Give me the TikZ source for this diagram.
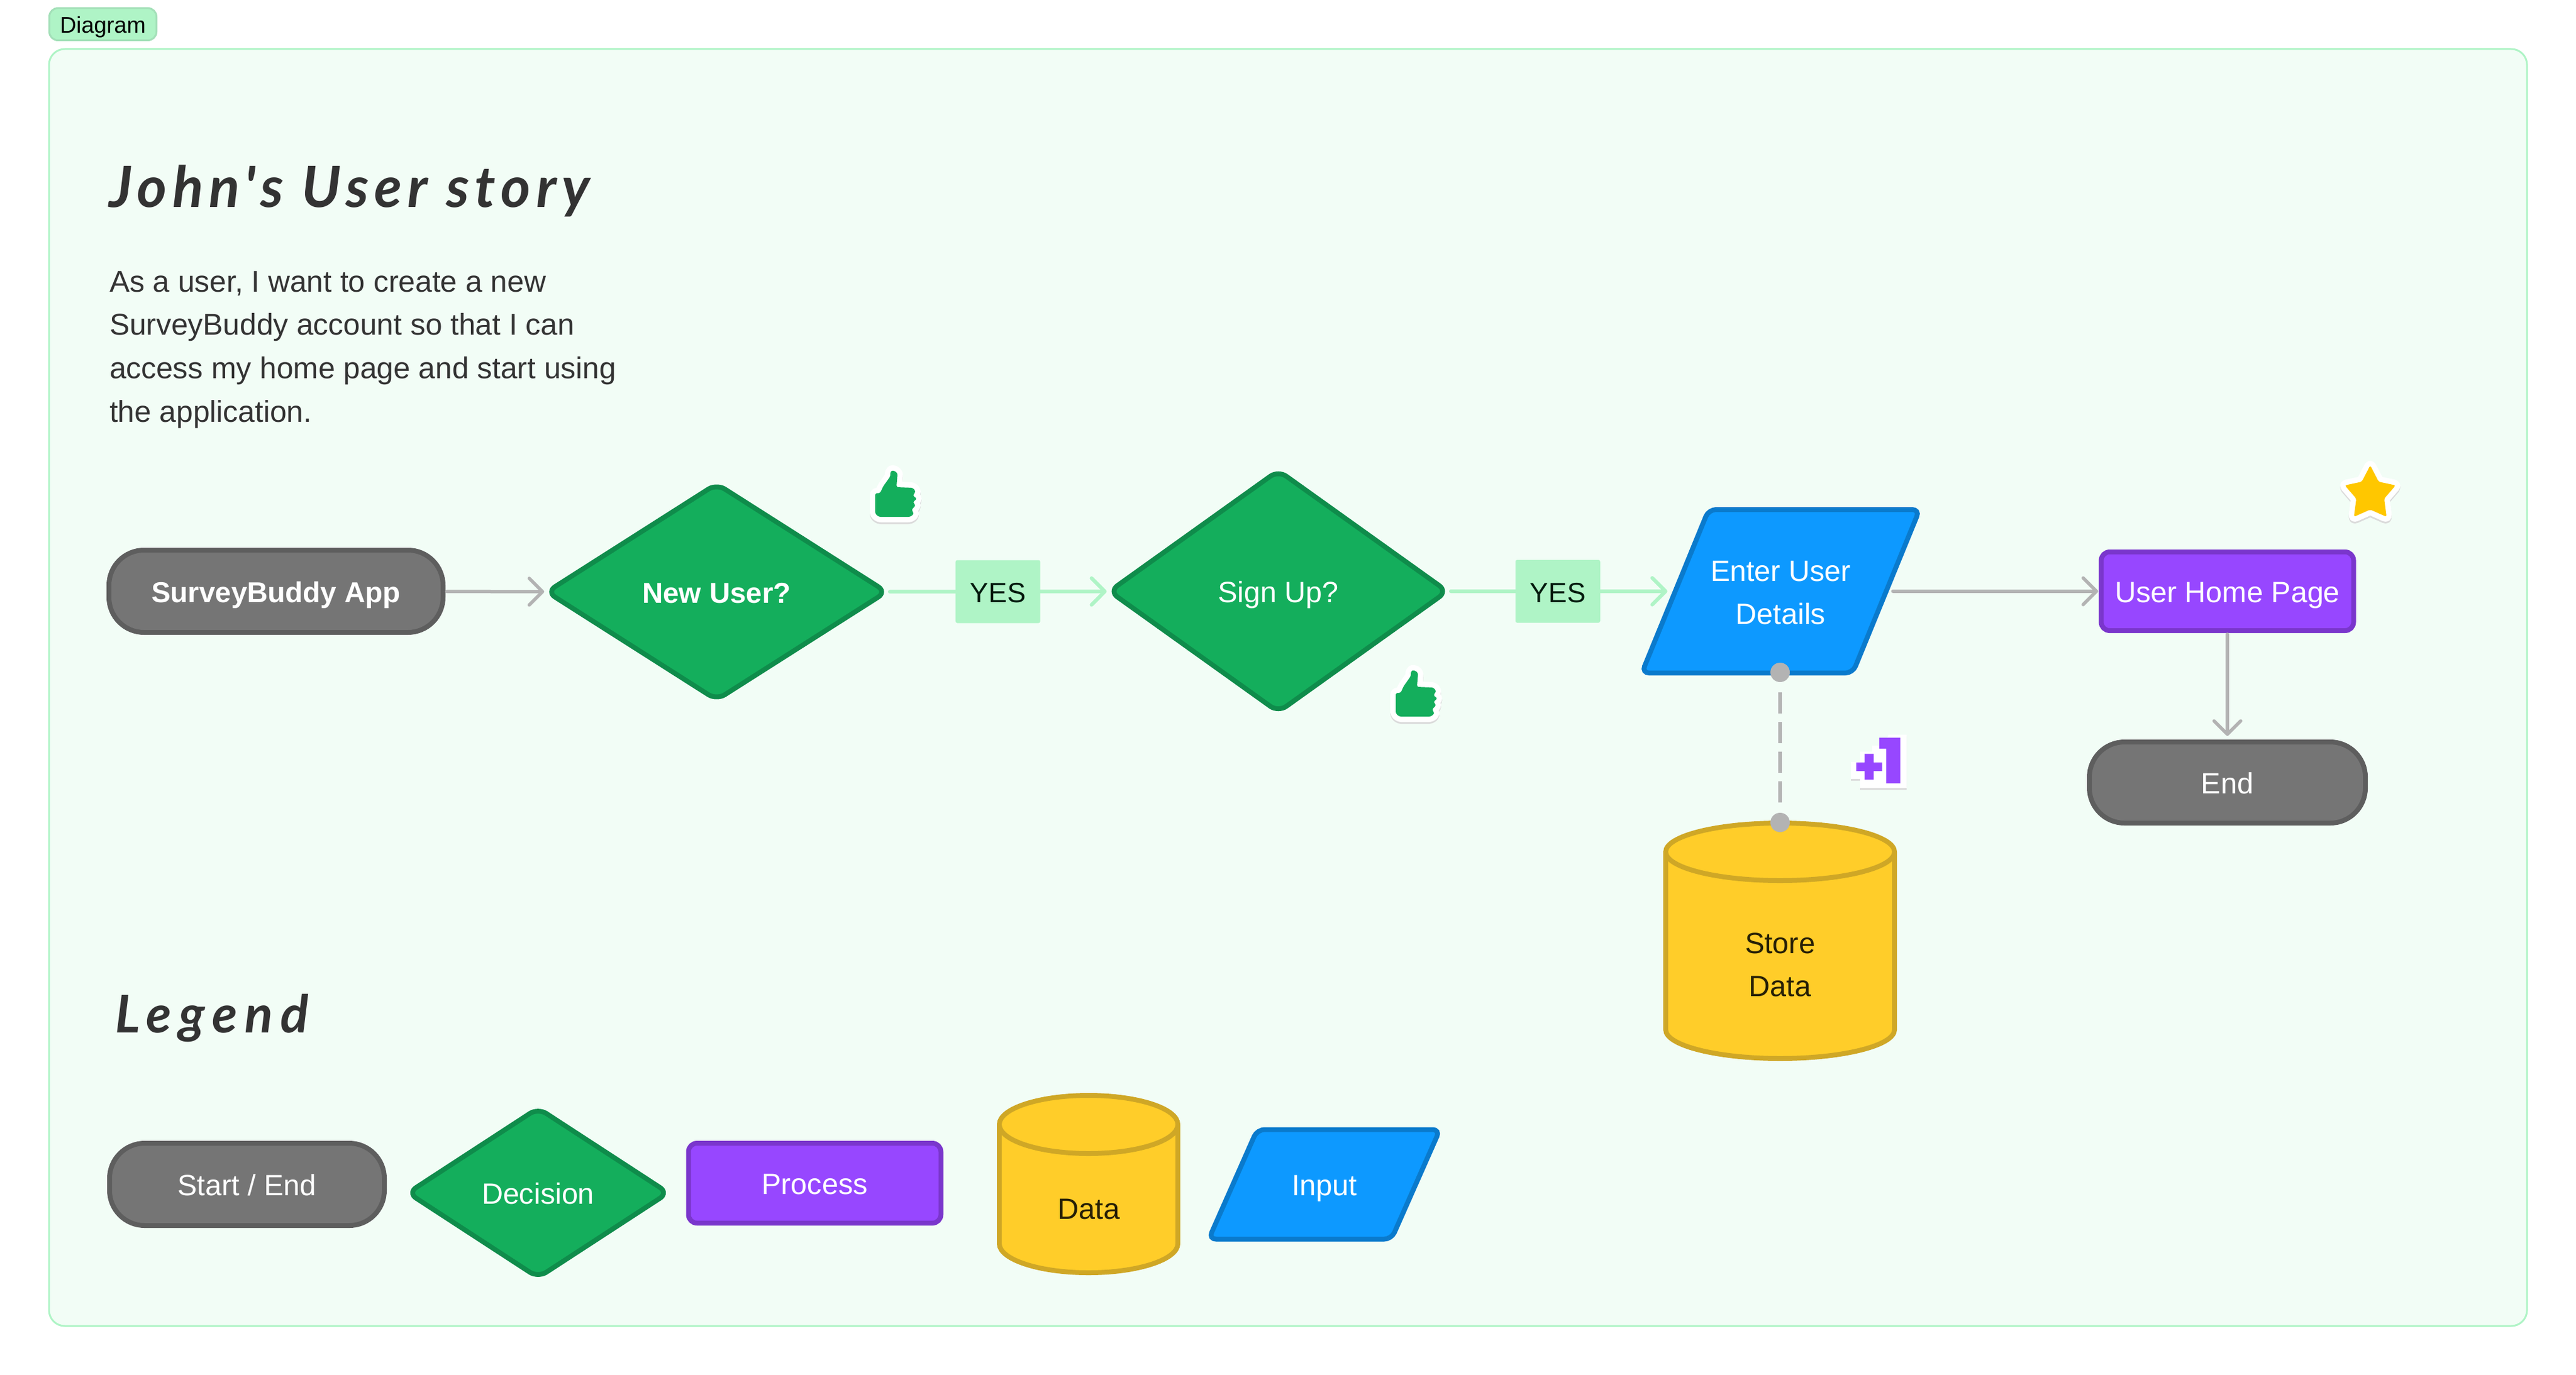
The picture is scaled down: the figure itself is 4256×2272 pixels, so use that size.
\documentclass[tikz,border=0pt]{standalone}
\usepackage{fontspec}
\usepackage{graphicx}
\setmainfont{Liberation Sans}
\newfontfamily\handfont{Lato}
\newfontfamily\stickfont[BoldFeatures={FakeBold=2.5}]{Poppins}
\usetikzlibrary{shapes.geometric,arrows.meta,calc}
\definecolor{framefill}{HTML}{F2FDF6}
\definecolor{mint}{HTML}{AFF4C6}
\definecolor{mintline}{HTML}{A3E0B8}
\definecolor{greyline}{HTML}{B3B3B3}
\definecolor{greyfill}{HTML}{757575}
\definecolor{greydraw}{HTML}{5E5E5E}
\definecolor{greenfill}{HTML}{14AE5C}
\definecolor{greendraw}{HTML}{0F8C4B}
\definecolor{purplefill}{HTML}{9747FF}
\definecolor{purpledraw}{HTML}{7A36CC}
\definecolor{bluefill}{HTML}{0D99FF}
\definecolor{bluedraw}{HTML}{0A7ACC}
\definecolor{yellowfill}{HTML}{FFCD29}
\definecolor{yellowdraw}{HTML}{CFA726}
\definecolor{ink}{HTML}{333333}
\definecolor{stargold}{HTML}{FFC700}
\newcommand{\fs}[1]{\fontsize{#1}{#1}\selectfont}
\newcommand{\cylbody}[5]{%
  \draw[cylstyle] ({#1-#3},#2) -- ({#1-#3},#5)
    .. controls ({#1-#3},{#5+.55*#4}) and ({#1-.55*#3},{#5+#4}) .. ({#1},{#5+#4})
    .. controls ({#1+.55*#3},{#5+#4}) and ({#1+#3},{#5+.55*#4}) .. ({#1+#3},#5)
    -- ({#1+#3},#2);
  \draw[cylstyle] (#1,#2) ellipse ({#3pt} and {#4pt});
}
\newcommand{\thumbpath}{(30,0) -- (37,5) -- (35,28) -- (62,29) -- (67,35) -- (62,42) -- (69,47) -- (62,53) -- (67,58) -- (60,65) -- (64,72) -- (58,77) -- (6,77) -- (0,72) -- (0,38) -- (8,38) -- (13,27) -- (25,10) -- (25,2) -- cycle}
\newcommand{\starpath}{(0,-46) -- (14,-19) -- (42,-13) -- (23,9) -- (27,39) -- (0,27) -- (-27,39) -- (-23,9) -- (-42,-13) -- (-14,-19) -- cycle}
\newcommand{\plusonepath}{(3058,1259) -- (3073,1259) -- (3073,1242) -- (3093,1242) -- (3093,1232) -- (3113,1232) -- (3120,1214) -- (3150,1214) -- (3150,1302) -- (3073,1302) -- (3073,1287) -- (3058,1287) -- cycle}
\tikzset{
  x=1pt,y=-1pt,
  every node/.style={inner sep=0pt,outer sep=0pt},
  oneline/.style={text height=44pt,text depth=8pt},
  body/.style={font=\fs{48.5}},
  startend/.style={rectangle,rounded corners=58pt,draw=greydraw,fill=greyfill,line width=8pt,text=white,body,oneline},
  decision/.style={diamond,rounded corners=16pt,draw=greendraw,fill=greenfill,line width=8pt,text=white,body,oneline},
  procbox/.style={rectangle,rounded corners=14pt,draw=purpledraw,fill=purplefill,line width=8pt,text=white,body,oneline},
  inputbox/.style={trapezium,trapezium stretches body,rounded corners=12pt,draw=bluedraw,fill=bluefill,line width=8pt,text=white,body},
  cylstyle/.style={draw=yellowdraw,fill=yellowfill,line width=8pt,line join=round},
  cyltext/.style={text=black!85!yellowfill,body},
  yeslabel/.style={rectangle,rounded corners=3pt,fill=mint,minimum width=140pt,minimum height=104pt,text=black!85!greenfill,font=\fs{46},oneline},
  greyconn/.style={draw=greyline,line width=5.5pt,line cap=round,-{Straight Barb[length=22pt,width=44pt,round]},shorten <=6pt,shorten >=5pt},
  mintconn/.style={draw=mint,line width=6pt,line cap=round,-{Straight Barb[length=22pt,width=44pt,round]},shorten <=6pt,shorten >=5pt},
  linkdot/.style={circle,fill=greyline,minimum size=32pt},
  linkdash/.style={draw=greyline,line width=5.5pt,line cap=butt,dash pattern=on 35pt off 14pt,shorten <=17pt,shorten >=17pt},
  thumbpic/.pic={
    \draw[black!14,fill=black!14,line width=18pt,line join=round,rounded corners=3pt,shift={(0,3)}] \thumbpath;
    \draw[white,fill=white,line width=18pt,line join=round,rounded corners=3pt] \thumbpath;
    \fill[greenfill,rounded corners=3pt] \thumbpath;
  },
  starpic/.pic={
    \draw[black!14,fill=black!14,line width=18pt,line join=round,rounded corners=3pt,shift={(0,3)}] \starpath;
    \draw[white,fill=white,line width=18pt,line join=round,rounded corners=3pt] \starpath;
    \fill[stargold,rounded corners=3pt] \starpath;
  },
}
\begin{document}
\begin{tikzpicture}
\useasboundingbox (0,0) rectangle (4256,2272);
\fill[white] (0,0) rectangle (4256,2272);

% tag and frame
\draw[draw=mint,fill=framefill,line width=3pt,rounded corners=26pt] (81,81) rectangle (4175,2191);
\node[rectangle,rounded corners=14pt,draw=mintline,fill=mint,line width=3pt,minimum width=177pt,minimum height=53pt,font=\fs{37.5},text=black,text height=32pt,text depth=3pt] (tag) at (170,40) {Diagram};

% headings
\node[anchor=base west,text=ink,font=\handfont\bfseries\itshape\fs{94}\addfontfeature{LetterSpace=10}] (title) at (180,342) {John's User story};
\node[anchor=base west,text=ink,align=left,font=\fontsize{49.7}{71.6}\selectfont] (story) at (181,697) {As a user, I want to create a new\\SurveyBuddy account so that I can\\access my home page and start using\\the application.};
\node[anchor=base west,text=ink,font=\handfont\bfseries\itshape\fs{86}\addfontfeature{LetterSpace=14.5}] (legendtitle) at (190,1706) {Legend};

% flow
\node[startend,minimum width=552pt,minimum height=136pt,font=\bfseries\fs{47.5}] (app) at (456,977) {SurveyBuddy App};
\node[decision,aspect=1.54,minimum width=561pt,minimum height=357pt,font=\bfseries\fs{47.5}] (newuser) at (1184,978) {New User?};
\node[decision,aspect=1.39,minimum width=558pt,minimum height=399pt] (signup) at (2112,977) {Sign Up?};
\node[inputbox,trapezium left angle=45,trapezium right angle=135,minimum width=459pt,minimum height=270pt,align=center,font=\fontsize{48.5}{71}\selectfont] (enter) at (2942,977) {\rule{0pt}{39pt}Enter User\\Details};
\node[procbox,minimum width=417pt,minimum height=130pt] (home) at (3680,977) {User Home Page};
\node[startend,minimum width=456pt,minimum height=134pt] (end) at (3680,1293) {End};

\cylbody{2941}{1407.5}{189}{47.5}{1701.5}
\node[cyltext,align=center,font=\fontsize{48.5}{71}\selectfont,minimum width=378pt] (store) at (2941,1594) {Store\\Data};

\draw[greyconn] (app) -- (newuser);
\draw[mintconn] (newuser) -- node[yeslabel] (yesa) {YES} (signup);
\draw[mintconn,shorten >=13pt] (signup) -- node[yeslabel,pos=.485] (yesb) {YES} (enter);
\draw[greyconn,shorten <=11pt] (enter) -- (home);
\draw[greyconn,shorten >=10pt] (home) -- (end);

\node[linkdot] (dota) at (2941,1111) {};
\node[linkdot] (dotb) at (2941,1359) {};
\draw[linkdash] (dota) -- (dotb);

% stickers
\pic at (1446,777) {thumbpic};
\pic at (2306,1107) {thumbpic};
\pic at (3916,815) {starpic};
\fill[black!14] [shift={(0,3)}] \plusonepath;
\fill[white] \plusonepath;
\node[anchor=base west,text=purplefill,font=\stickfont\bfseries] (plusone) at (3063,1293) {{\fs{80}\raisebox{-2pt}{+}}\kern-10pt{\fs{100}\scalebox{1.15}[1]{1}}};

% legend
\node[startend,minimum width=454pt,minimum height=136pt] (lstart) at (408,1957) {Start / End};
\node[decision,aspect=1.52,minimum width=430pt,minimum height=280pt] (ldecision) at (889,1971) {Decision};
\node[procbox,minimum width=417pt,minimum height=132pt] (lprocess) at (1346,1955) {Process};
\cylbody{1798.5}{1858}{147.5}{48}{2055}
\node[cyltext,oneline] (ldata) at (1799,1996) {Data};
\node[inputbox,oneline,trapezium left angle=33,trapezium right angle=147,minimum width=382pt,minimum height=181pt] (linput) at (2188,1957) {Input};
\end{tikzpicture}
\end{document}
